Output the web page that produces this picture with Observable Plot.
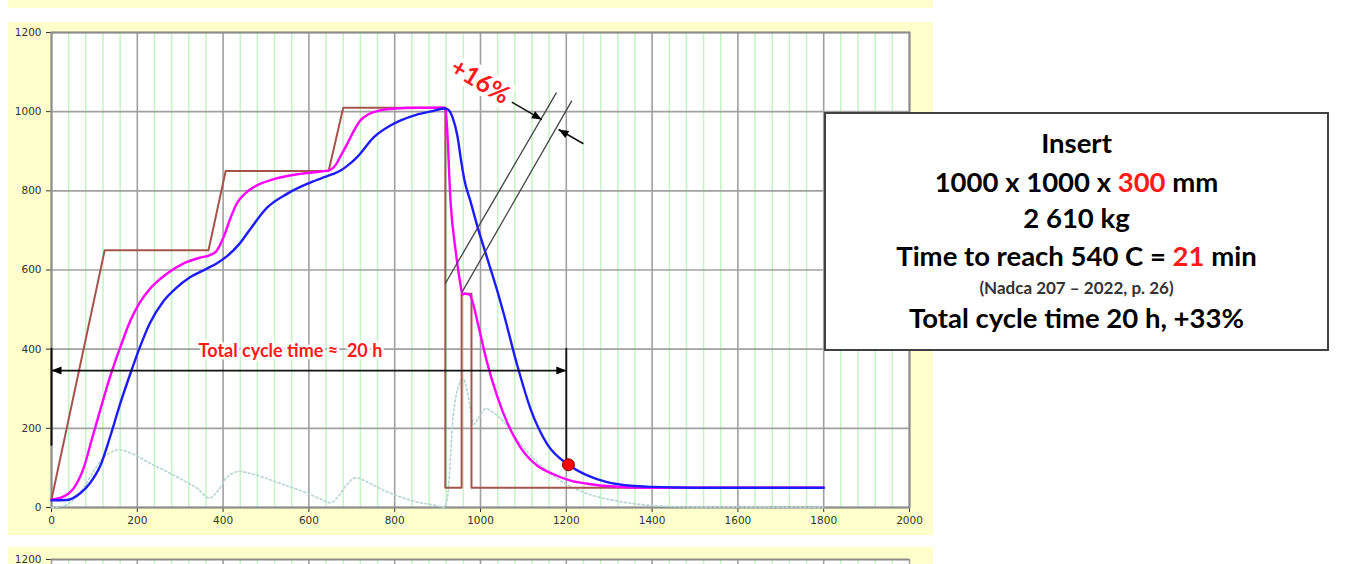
<!DOCTYPE html>
<html><head><meta charset="utf-8">
<script src="https://cdn.jsdelivr.net/npm/d3@7"></script>
<script src="https://cdn.jsdelivr.net/npm/@observablehq/plot@0.6"></script>
<style>
body{margin:0;background:#fff;}
#wrap{position:relative;width:1364px;height:564px;overflow:hidden;background:#fff;}
.panel{position:absolute;background:#ffffcc;left:8px;width:925px;}
#main{position:absolute;left:0;top:0;}
#next{position:absolute;left:0;top:547px;}
#box{position:absolute;left:824px;top:112px;width:501px;height:235px;border:2px solid #404040;background:#fff;font-family:Lato,"Open Sans",sans-serif;font-weight:bold;color:#000;}
#box div{position:absolute;left:0;width:100%;text-align:center;white-space:nowrap;}
.big{font-size:27.5px;line-height:30px;height:30px;}
.small{font-size:17px;line-height:20px;height:20px;color:#333;}
.red{color:#ff1a1a;}
</style></head>
<body>
<div id="wrap">
  <div class="panel" style="top:0;height:8px;"></div>
  <div class="panel" style="top:22px;height:513px;"></div>
  <div class="panel" style="top:547px;height:17px;"></div>
  <div id="main"></div>
  <div id="next"></div>
  <div id="box">
    <div class="big" style="top:14px;">Insert</div>
    <div class="big" style="top:53px;">1000 x 1000 x <span class="red">300</span> mm</div>
    <div class="big" style="top:89px;">2 610 kg</div>
    <div class="big" style="top:127px;">Time to reach 540 C = <span class="red">21</span> min</div>
    <div class="small" style="top:164px;">(Nadca 207 – 2022, p. 26)</div>
    <div class="big" style="top:189px;">Total cycle time 20 h, +33%</div>
  </div>
</div>
<script>
// ---- axes / ticks ----
const xMajorTicks = [0,200,400,600,800,1000,1200,1400,1600,1800,2000];
const xMinorTicks = [40,80,120,160,240,280,320,360,440,480,520,560,640,680,720,760,840,880,920,960,
  1040,1080,1120,1160,1240,1280,1320,1360,1440,1480,1520,1560,1640,1680,1720,1760,1840,1880,1920,1960];
const yTicks = [0,200,400,600,800,1000,1200];

// ---- furnace set temperature (brown) ----
const furnaceTime = [0,124,366,406,646,680,918,918,956,956,979,979,1800];
const furnaceTemp = [20,650,650,850,850,1010,1010,50,50,540,540,50,50];

// ---- surface temperature (magenta) ----
const surfaceTime = [0,29,52,75,94,114,137,160,183,206,229,268,307,345,368,384,400,415,432,450,471,520,580,630,650,662,675,690,705,720,740,765,800,850,918,922,930,942,953,958,963,975,980,996,1015,1039,1062,1093,1132,1170,1210,1249,1310,1400,1800];
const surfaceTemp = [20,28,49,100,172,248,332,404,470,518,552,590,616,631,637,647,680,725,768,792,809,830,843,849,853,865,890,920,952,978,994,1003,1008,1010,1010,960,776,649,566,538,540,538,525,455,368,281,215,152,106,84,68,60,53,50,50];

// ---- core temperature (blue) ----
const coreTime = [0,36,67,90,114,137,160,187,206,229,260,291,322,361,384,407,438,461,503,550,597,630,655,675,695,713,751,790,814,850,891,915,925,935,946,955,962,977,995,1015,1039,1054,1086,1117,1155,1205,1249,1295,1350,1400,1500,1800];
const coreTemp = [18,19,36,62,106,180,262,348,405,465,520,555,581,603,616,633,666,700,758,793,818,832,842,852,868,886,935,965,978,992,1002,1008,1005,985,940,875,830,772,702,632,548,490,358,248,161,108,81,64,55,52,50,50];

// ---- surface/core difference (dotted) ----
const diffTime = [0,30,52,75,100,120,140,156,190,231,270,308,340,368,390,407,438,470,503,540,580,620,650,670,690,709,740,775,810,852,900,914,922,937,950,960,970,984,995,1012,1030,1060,1093,1132,1186,1249,1310,1400,1500,1800];
const diffTemp = [0,5,20,50,95,125,140,146,135,111,90,68,48,24,45,74,91,84,73,58,43,25,12,30,60,75,62,43,28,14,4,0,18,237,310,325,290,210,225,250,240,210,161,115,68,35,18,5,1,0];

// ---- annotations ----
const cycleSpan = [{x1:0, x2:1200, y:346}];
const cycleEnd = [{x:1200, y1:402, y2:108}];
const cycleStart = [{x:0, y1:402, y2:155}];
const cycleLabel = [{x:557, y:394, text:"Total cycle time ≈ \u00a020 h"}];
const targetPoint = [{x:1205, y:108}];
const slantLines = [{x1:918,y1:566,x2:1177,y2:1048},{x1:957,y1:544,x2:1213,y2:1028}];
const pctArrows = [{x1:1073,y1:1024,x2:1143,y2:980},{x1:1240,y1:919,x2:1182,y2:955}];
const arrowHeads = [
  {x:0, y:346, angle:-90},
  {x:1200, y:346, angle:90},
  {x:1143, y:980, angle:119},
  {x:1182, y:955, angle:-60}
];
const pctLabel = [{x:999, y:1076, text:"+16%"}];

const toRows = (t, v) => t.map((d, i) => ({t: d, v: v[i]}));
const furnace = toRows(furnaceTime, furnaceTemp);
const surface = toRows(surfaceTime, surfaceTemp);
const core = toRows(coreTime, coreTemp);
const diff = toRows(diffTime, diffTemp);

const headSymbol = {draw(ctx) { ctx.moveTo(0, 0); ctx.lineTo(4, 10); ctx.lineTo(-4, 10); ctx.closePath(); }};

const gridMinor = "#c4f4c4", gridMajor = "#a0a0a0";
const tickStyle = {fontFamily: "'DejaVu Sans', Verdana, sans-serif", fontSize: "10.5px", color: "#333", background: "transparent", overflow: "visible"};

const main = Plot.plot({
  width: 1364, height: 564,
  marginLeft: 51, marginRight: 455, marginTop: 32, marginBottom: 57,
  x: {domain: [0, 2000], ticks: xMajorTicks, tickSize: 5, tickPadding: 4, tickFormat: "d", label: null},
  y: {domain: [0, 1200], ticks: yTicks, tickSize: 5, tickPadding: 5, tickFormat: "d", label: null},
  style: tickStyle,
  marks: [
    Plot.frame({fill: "#fff", stroke: "none"}),
    Plot.ruleX(xMinorTicks, {stroke: gridMinor, strokeWidth: 1.5}),
    Plot.ruleX(xMajorTicks, {stroke: gridMajor, strokeWidth: 1.6}),
    Plot.ruleY(yTicks, {stroke: gridMajor, strokeWidth: 1.6}),
    Plot.frame({stroke: "#8c8c8c", strokeWidth: 2}),
    Plot.line(diff, {x: "t", y: "v", stroke: "#b4d6d2", strokeWidth: 1.6, strokeDasharray: "2,2.5", curve: "monotone-x"}),
    Plot.line(furnace, {x: "t", y: "v", stroke: "#a5544c", strokeWidth: 2}),
    Plot.line(surface, {x: "t", y: "v", stroke: "#ff00ff", strokeWidth: 2.4, curve: "monotone-x"}),
    Plot.line(core, {x: "t", y: "v", stroke: "#1c1cff", strokeWidth: 2.4, curve: "monotone-x"}),
    Plot.ruleY(cycleSpan, {x1: "x1", x2: "x2", y: "y", stroke: "#111", strokeWidth: 1.8}),
    Plot.ruleX(cycleEnd, {x: "x", y1: "y1", y2: "y2", stroke: "#111", strokeWidth: 1.8}),
    Plot.ruleX(cycleStart, {x: "x", y1: "y1", y2: "y2", stroke: "#111", strokeWidth: 2}),
    Plot.link(slantLines, {x1: "x1", y1: "y1", x2: "x2", y2: "y2", stroke: "#444", strokeWidth: 1.3}),
    Plot.link(pctArrows, {x1: "x1", y1: "y1", x2: "x2", y2: "y2", stroke: "#111", strokeWidth: 1.5}),
    Plot.dot(arrowHeads, {x: "x", y: "y", rotate: "angle", symbol: headSymbol, fill: "#000", stroke: "none", r: 4}),
    Plot.dot(targetPoint, {x: "x", y: "y", r: 6, fill: "#ff0000", stroke: "#8b0000", strokeWidth: 1}),
    Plot.text(cycleLabel, {x: "x", y: "y", text: "text", fill: "#ff1a1a", stroke: "#fff", strokeWidth: 5, paintOrder: "stroke", fontSize: 18, fontWeight: "bold", fontFamily: "Lato, sans-serif"}),
    Plot.text(pctLabel, {x: "x", y: "y", text: "text", rotate: 31, fill: "#ff1a1a", stroke: "#fff", strokeWidth: 9, paintOrder: "stroke", fontSize: 25, fontWeight: "bold", fontFamily: "Lato, sans-serif"})
  ]
});
document.getElementById("main").appendChild(main);

// fragment of the next chart below
const nextYTicks = [1200];
const next = Plot.plot({
  width: 1364, height: 17,
  marginLeft: 51, marginRight: 455, marginTop: 12, marginBottom: 0,
  x: {domain: [0, 2000], axis: null},
  y: {domain: [1190, 1200], ticks: nextYTicks, tickSize: 5, tickPadding: 5, tickFormat: "d", label: null},
  style: tickStyle,
  marks: [
    Plot.frame({fill: "#fff", stroke: "none"}),
    Plot.ruleX(xMinorTicks, {stroke: gridMinor, strokeWidth: 1.5}),
    Plot.ruleX(xMajorTicks, {stroke: gridMajor, strokeWidth: 1.6}),
    Plot.ruleY(nextYTicks, {stroke: "#8c8c8c", strokeWidth: 2})
  ]
});
document.getElementById("next").appendChild(next);
</script>
</body></html>
